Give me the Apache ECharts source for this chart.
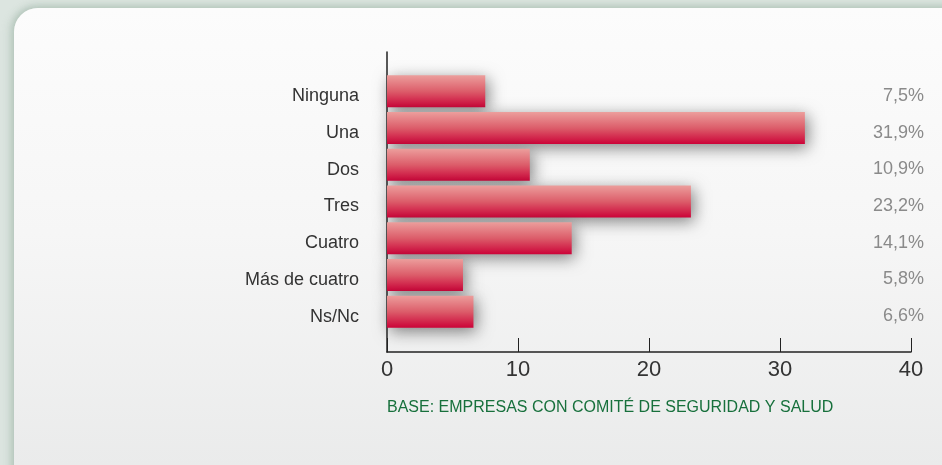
<!DOCTYPE html>
<html>
<head>
<meta charset="utf-8">
<script src="https://cdn.jsdelivr.net/npm/echarts@6/dist/echarts.min.js"></script>
<style>
  html, body { margin: 0; padding: 0; width: 942px; height: 465px; overflow: hidden; background: #dce5e0; }
  #panel {
    position: absolute; left: 14px; top: 8px; width: 980px; height: 500px;
    border-radius: 24px;
    background: linear-gradient(to bottom, #fcfcfc 0%, #f6f6f6 45%, #e8e9e9 100%);
    box-shadow: -4px 0 8px rgba(150,175,160,0.45), 0 -3px 6px rgba(150,175,160,0.35);
  }
  #chart { position: absolute; left: 0; top: 0; width: 942px; height: 465px; }
</style>
</head>
<body>
<div id="panel"></div>
<div id="chart"></div>
<script>
// Number of prevention delegates per company
const categories = ['Ninguna', 'Una', 'Dos', 'Tres', 'Cuatro', 'Más de cuatro', 'Ns/Nc'];
const values = [7.5, 31.9, 10.9, 23.2, 14.1, 5.8, 6.6];
const xTicks = [0, 10, 20, 30, 40];
const footnote = 'BASE: EMPRESAS CON COMITÉ DE SEGURIDAD Y SALUD';

const fmt = v => v.toFixed(1).replace('.', ',') + '%';

const chart = echarts.init(document.getElementById('chart'), null, { renderer: 'canvas' });

const option = {
  backgroundColor: 'transparent',
  animation: false,
  grid: [
    // bar area
    { left: 387, right: 31, top: 73, height: 257 },
    // frame with axes
    { left: 387, right: 31, top: 52, bottom: 113 }
  ],
  xAxis: [
    { gridIndex: 0, type: 'value', min: xTicks[0], max: xTicks[xTicks.length - 1], show: false },
    {
      gridIndex: 1, type: 'value', min: xTicks[0], max: xTicks[xTicks.length - 1], interval: 10,
      axisLine: { show: true, lineStyle: { color: '#222', width: 1.5 } },
      axisTick: { show: true, inside: true, length: 14, lineStyle: { color: '#222', width: 1 } },
      axisLabel: { color: '#333', fontSize: 22, fontFamily: 'Liberation Sans', margin: 7 },
      splitLine: { show: false }
    }
  ],
  yAxis: [
    {
      gridIndex: 0, type: 'category', data: categories, inverse: true,
      axisLine: { show: false }, axisTick: { show: false },
      axisLabel: {
        color: '#333', fontSize: 18, fontFamily: 'Liberation Sans', margin: 28,
        verticalAlign: 'top', lineHeight: 10
      }
    },
    {
      gridIndex: 0, type: 'category', data: categories, inverse: true, position: 'right',
      axisLine: { show: false }, axisTick: { show: false },
      axisLabel: {
        color: '#8a8a8a', fontSize: 18, fontFamily: 'Liberation Sans', align: 'right', margin: 13,
        verticalAlign: 'top', lineHeight: 9,
        formatter: (val, idx) => fmt(values[idx])
      }
    },
    {
      gridIndex: 1, type: 'value', min: 0, max: 1,
      axisLine: { show: true, lineStyle: { color: '#222', width: 1.5 } },
      axisTick: { show: false }, axisLabel: { show: false }, splitLine: { show: false }
    }
  ],
  series: [{
    type: 'bar',
    xAxisIndex: 0, yAxisIndex: 0,
    data: values,
    barWidth: 32,
    itemStyle: {
      color: new echarts.graphic.LinearGradient(0, 0, 0, 1, [
        { offset: 0, color: '#ec9e9c' },
        { offset: 0.5, color: '#dc5d6a' },
        { offset: 1, color: '#cc0338' }
      ]),
      shadowColor: 'rgba(50,50,50,0.6)',
      shadowBlur: 16,
      shadowOffsetX: 3,
      shadowOffsetY: 4
    }
  }],
  graphic: [{
    type: 'text', left: 387, top: 400,
    style: { text: footnote, fill: '#17703c', fontSize: 16, fontFamily: 'Liberation Sans', fontWeight: 'normal' }
  }]
};

chart.setOption(option);
</script>
</body>
</html>
